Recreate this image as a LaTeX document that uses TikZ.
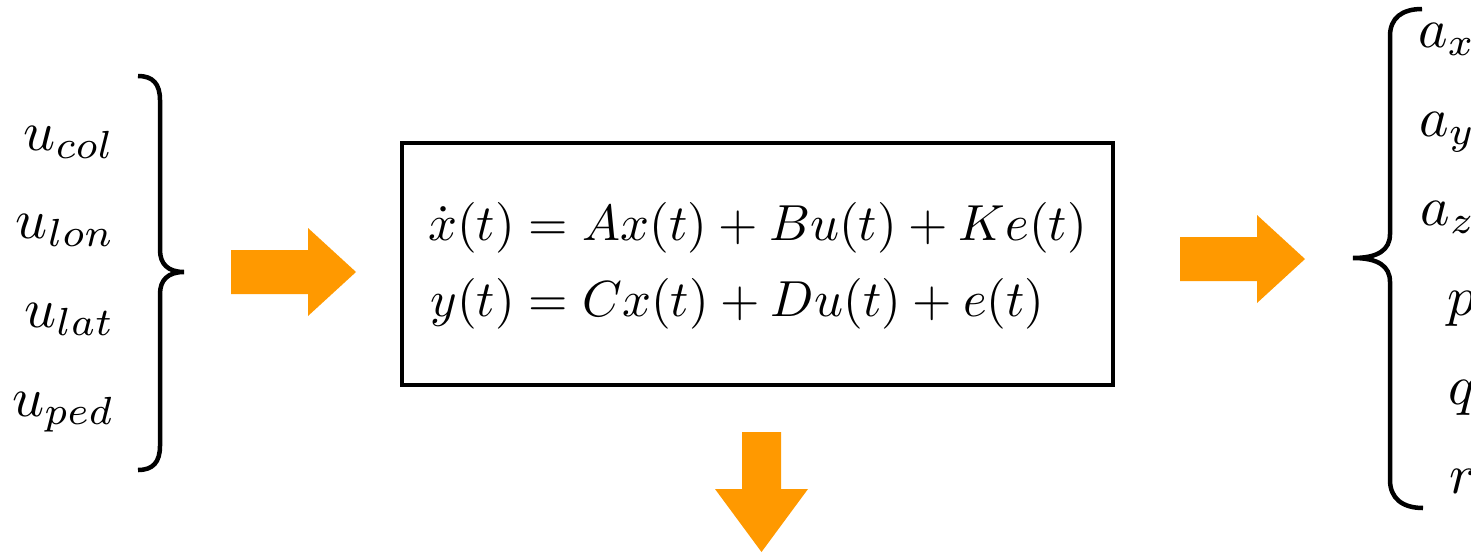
\documentclass[tikz,border=0pt]{standalone}
\usepackage{amsmath}
\definecolor{arroworange}{RGB}{255,153,0}
\begin{document}
\begin{tikzpicture}[x=1pt,y=-1pt,
  brace/.style={line width=4.5pt},
  sysbox/.style={draw, line width=4pt, inner sep=0pt},
  blockarrow/.style={fill=arroworange, draw=none},
  inlabel/.style={anchor=base east, inner sep=0pt, scale=5.6},
  outlabel/.style={anchor=base east, inner sep=0pt, scale=5.6}]
\useasboundingbox (0,0) rectangle (1471,554);
% system box and equations
\node[sysbox, minimum width=711pt, minimum height=242pt] (sys) at (757.5,264) {};
\node[scale=5.07, inner sep=0pt] (eq) at (757.5,266)
  {$\begin{aligned}\dot{x}(t)&=Ax(t)+Bu(t)+Ke(t)\\ y(t)&=Cx(t)+Du(t)+e(t)\end{aligned}$};
% inputs
\node[inlabel] (ucol) at (116,150) {$u_{col}$};
\node[inlabel] (ulon) at (116,238) {$u_{lon}$};
\node[inlabel] (ulat) at (116,327) {$u_{lat}$};
\node[inlabel] (uped) at (116,416) {$u_{ped}$};
\draw[brace] (138,76) .. controls (153,76) and (160,84) .. (160,100) -- (160,250)
  .. controls (160,264) and (168,272) .. (184,272)
  .. controls (168,272) and (160,280) .. (160,294) -- (160,446)
  .. controls (160,462) and (153,470) .. (138,470);
% outputs
\node[outlabel] (ax) at (1477,47) {$a_x$};
\node[outlabel] (ay) at (1477,136) {$a_y$};
\node[outlabel] (az) at (1477,225) {$a_z$};
\node[outlabel] (p) at (1477,315) {$p$};
\node[outlabel] (q) at (1477,404) {$q$};
\node[outlabel] (r) at (1477,493) {$r$};
\draw[brace] (1422,9) .. controls (1402,9) and (1390,18) .. (1390,36) -- (1390,234)
  .. controls (1390,250) and (1378,258) .. (1353,258)
  .. controls (1378,258) and (1390,266) .. (1390,282) -- (1390,480)
  .. controls (1390,498) and (1402,508) .. (1423,508);
% block arrows
\fill[blockarrow] (231,250) -- (308,250) -- (308,228) -- (356,272) -- (308,316) -- (308,294) -- (231,294) -- cycle;
\fill[blockarrow] (1180,237) -- (1257,237) -- (1257,215) -- (1305,259) -- (1257,303) -- (1257,281) -- (1180,281) -- cycle;
\fill[blockarrow] (742,432) -- (781,432) -- (781,489) -- (808,489) -- (761.5,552) -- (715,489) -- (742,489) -- cycle;
\end{tikzpicture}
\end{document}
